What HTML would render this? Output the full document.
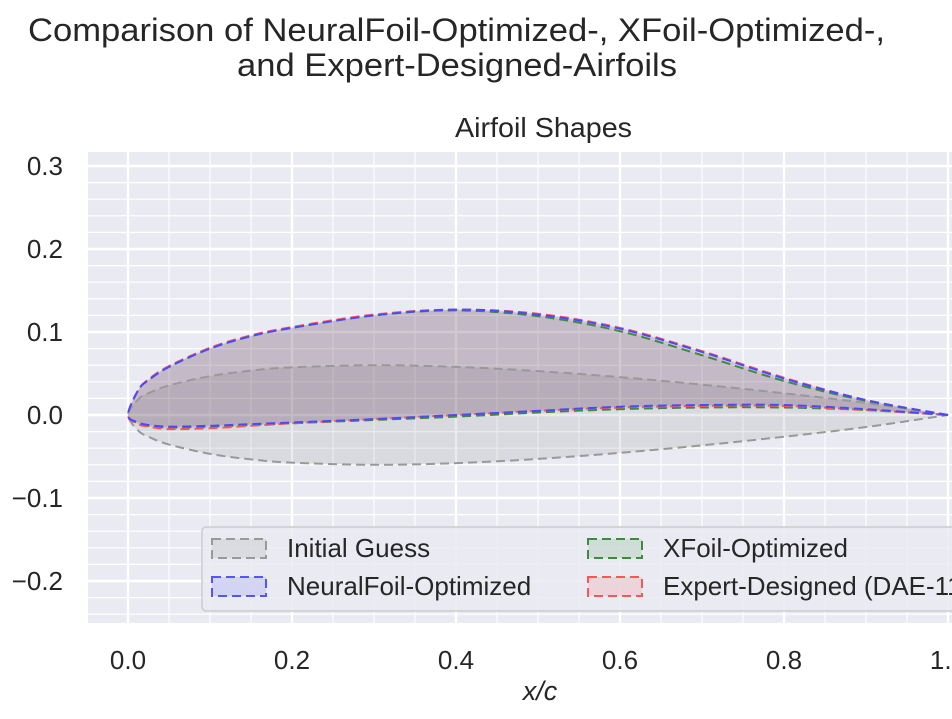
<!DOCTYPE html>
<html><head><meta charset="utf-8">
<style>
html,body{margin:0;padding:0;background:#fff;}
body{width:952px;height:714px;overflow:hidden;font-family:"Liberation Sans","DejaVu Sans",sans-serif;}
</style></head>
<body>
<svg id="chart" width="952" height="714" xmlns="http://www.w3.org/2000/svg" font-family="Liberation Sans, DejaVu Sans, sans-serif">
  <text x="28" y="41" font-size="32" fill="#262626" textLength="857" lengthAdjust="spacingAndGlyphs">Comparison of NeuralFoil-Optimized-, XFoil-Optimized-,</text>
  <text x="237" y="76" font-size="32" fill="#262626" textLength="440" lengthAdjust="spacingAndGlyphs">and Expert-Designed-Airfoils</text>
  <text x="455" y="137" font-size="28" fill="#262626" textLength="177" lengthAdjust="spacingAndGlyphs">Airfoil Shapes</text>
  <rect x="88" y="152" width="870" height="471" fill="#eaeaf2"/>
  <g id="grid"></g>
  <g id="series"></g>
  <g id="ticks"></g>
  <text x="540" y="700" font-size="27" fill="#262626" text-anchor="middle" font-style="italic">x/c</text>
  <g>
    <rect x="202" y="527" width="760" height="84" rx="4" fill="#eaeaf2" fill-opacity="0.85" stroke="#cccccc" stroke-width="1.5"/>
    <rect x="212" y="539" width="54" height="19" fill="rgba(128,128,128,0.15)" stroke="#999" stroke-width="2" stroke-dasharray="9,5"/>
    <text x="287" y="557" font-size="26" fill="#262626">Initial Guess</text>
    <rect x="212" y="577" width="54" height="19" fill="rgba(80,80,255,0.15)" stroke="#5555ff" stroke-width="2" stroke-dasharray="9,5"/>
    <text x="287" y="595" font-size="26" fill="#262626">NeuralFoil-Optimized</text>
    <rect x="588" y="539" width="54" height="19" fill="rgba(60,140,60,0.15)" stroke="#3c8c3c" stroke-width="2" stroke-dasharray="9,5"/>
    <text x="663" y="557" font-size="26" fill="#262626">XFoil-Optimized</text>
    <rect x="588" y="577" width="54" height="19" fill="rgba(255,80,80,0.15)" stroke="#ff5555" stroke-width="2" stroke-dasharray="9,5"/>
    <text x="663" y="595" font-size="26" fill="#262626">Expert-Designed (DAE-11)</text>
  </g>
</svg>
<script>
const xStations = [0,0.0125,0.025,0.05,0.1,0.15,0.2,0.3,0.4,0.5,0.6,0.7,0.8,0.9,1.0];
const initUpper = [0,0.0189,0.0262,0.0356,0.0468,0.0535,0.0574,0.0600,0.0580,0.0529,0.0456,0.0366,0.0262,0.0145,0];
const initLower = [0,-0.0189,-0.0262,-0.0356,-0.0468,-0.0535,-0.0574,-0.0600,-0.0580,-0.0529,-0.0456,-0.0366,-0.0262,-0.0145,0];
const nfUpper = [0,0.030,0.042,0.058,0.080,0.095,0.105,0.120,0.127,0.121,0.104,0.076,0.044,0.018,0];
const nfLower = [0,-0.009,-0.012,-0.014,-0.013,-0.011,-0.009,-0.005,0.000,0.005,0.010,0.012,0.012,0.007,0];
const xfUpper = [0,0.030,0.042,0.058,0.080,0.095,0.105,0.120,0.126,0.119,0.101,0.072,0.041,0.017,0];
const xfLower = [0,-0.010,-0.013,-0.015,-0.014,-0.012,-0.010,-0.006,-0.002,0.003,0.007,0.009,0.009,0.006,0];
const exUpper = [0,0.030,0.043,0.059,0.081,0.096,0.106,0.121,0.127,0.122,0.105,0.077,0.045,0.018,0];
const exLower = [0,-0.011,-0.014,-0.017,-0.016,-0.013,-0.010,-0.005,0.000,0.005,0.009,0.011,0.011,0.006,0];
const xTicks = [0.0,0.2,0.4,0.6,0.8,1.0];
const xTickLabels = ["0.0","0.2","0.4","0.6","0.8","1.0"];
const yTicks = [0.3,0.2,0.1,0.0,-0.1,-0.2];
const yTickLabels = ["0.3","0.2","0.1","0.0","\u22120.1","\u22120.2"];

const NS="http://www.w3.org/2000/svg";
function xs(v){return 128+v*820;}
function ys(v){return 415-v*830;}
function mk(tag,attrs,parent){const e=document.createElementNS(NS,tag);for(const k in attrs)e.setAttribute(k,attrs[k]);parent.appendChild(e);return e;}
const grid=document.getElementById('grid'), ticks=document.getElementById('ticks'), ser=document.getElementById('series');
for(let v=-0.05;v<=1.16;v+=0.05){
  const major=Math.abs(v*5-Math.round(v*5))<1e-6;
  const l=mk('line',{x1:xs(v),x2:xs(v),y1:152,y2:623,stroke:'#fff','stroke-width':major?2.4:1.2},grid);
  
  
}
for(let i=-12;i<=15;i++){
  const v=i*0.02;
  if(ys(v)<152||ys(v)>623)continue;
  const l=mk('line',{x1:88,x2:958,y1:ys(v),y2:ys(v),stroke:'#fff','stroke-width':1.2},grid);
  
  
}
yTicks.forEach((v,i)=>{
  const l=mk('line',{x1:88,x2:958,y1:ys(v),y2:ys(v),stroke:'#fff','stroke-width':2.4},grid);
  
  
  const t=mk('text',{x:63,y:ys(v)+9,'font-size':26,fill:'#262626','text-anchor':'end'},ticks);
  t.textContent=yTickLabels[i];
  
  
});
xTicks.forEach((v,i)=>{
  const t=mk('text',{x:xs(v),y:669,'font-size':26,fill:'#262626','text-anchor':'middle'},ticks);
  t.textContent=xTickLabels[i];
  
  
});
function smooth(pts){
  let d='M'+pts[0][0].toFixed(2)+','+pts[0][1].toFixed(2);
  for(let i=0;i<pts.length-1;i++){
    const p0=pts[Math.max(0,i-1)],p1=pts[i],p2=pts[i+1],p3=pts[Math.min(pts.length-1,i+2)];
    const c1=[p1[0]+(p2[0]-p0[0])/6,p1[1]+(p2[1]-p0[1])/6];
    const c2=[p2[0]-(p3[0]-p1[0])/6,p2[1]-(p3[1]-p1[1])/6];
    d+=' C'+c1.map(n=>n.toFixed(2))+' '+c2.map(n=>n.toFixed(2))+' '+p2[0].toFixed(2)+','+p2[1].toFixed(2);
  }
  return d;
}
function outline(up,lo){
  const pts=[];
  for(let i=xStations.length-1;i>=0;i--)pts.push([xs(xStations[i]),ys(up[i])]);
  for(let i=1;i<xStations.length;i++)pts.push([xs(xStations[i]),ys(lo[i])]);
  return smooth(pts);
}
const series=[
  {name:'initial-guess',u:initUpper,l:initLower,stroke:'#999999',fill:'rgba(128,128,128,0.16)'},
  {name:'xfoil-optimized',u:xfUpper,l:xfLower,stroke:'#3c8c3c',fill:'rgba(60,120,60,0.10)'},
  {name:'expert-designed',u:exUpper,l:exLower,stroke:'#ff5555',fill:'rgba(180,60,80,0.10)'},
  {name:'neuralfoil-optimized',u:nfUpper,l:nfLower,stroke:'#4a4aff',fill:'rgba(70,40,140,0.12)'}
];
series.forEach(s=>{
  const p=mk('path',{d:outline(s.u,s.l),fill:s.fill,stroke:'none'},ser);
  
  
});
series.forEach(s=>{
  const p=mk('path',{d:outline(s.u,s.l),fill:'none',stroke:s.stroke,'stroke-width':2,'stroke-dasharray':'9,5'},ser);
  
  
});
</script>
</body></html>
